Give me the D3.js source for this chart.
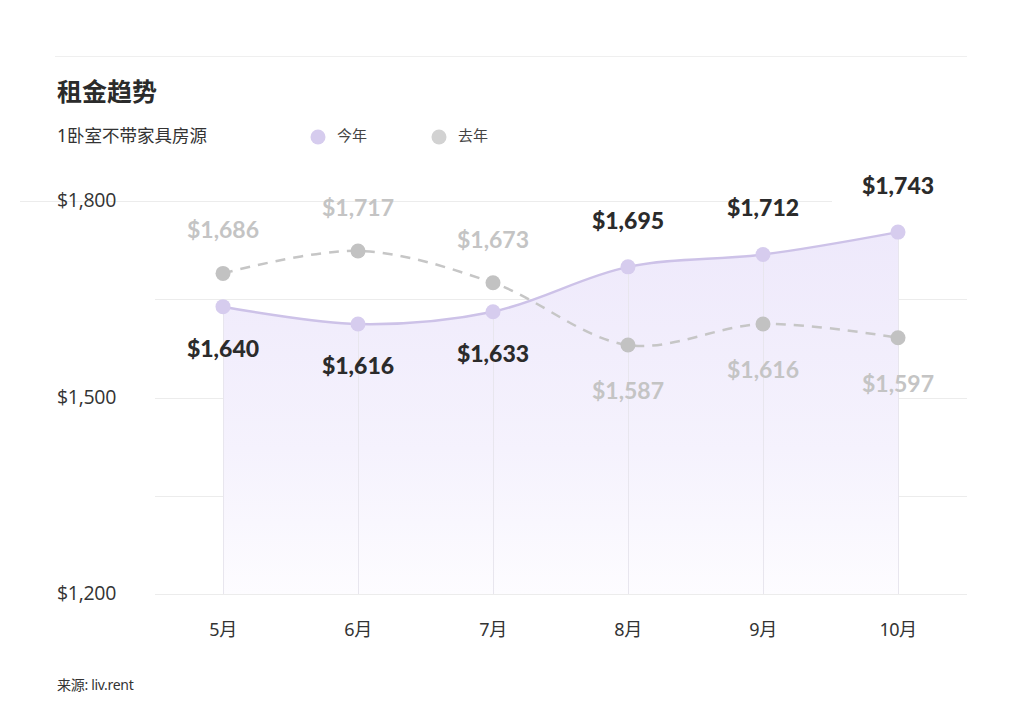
<!DOCTYPE html>
<html><head><meta charset="utf-8">
<script src="https://cdn.jsdelivr.net/npm/d3@7/dist/d3.min.js"></script>
<style>body{margin:0;background:#fff}svg{display:block}</style>
</head><body><svg id="c" width="1024" height="717"></svg>
<script>
const months = ["5月","6月","7月","8月","9月","10月"];
const thisYear = [1640,1616,1633,1695,1712,1743];
const lastYear = [1686,1717,1673,1587,1616,1597];
const yTicks = [1200,1500,1800];
const gridValues = [1200,1350,1500,1650];
const title = "租金趋势";
const subtitle = "1卧室不带家具房源";
const legendLabels = ["今年","去年"];
const source = "来源: liv.rent";

const svg = d3.select("#c");
const cjk = "'Noto Sans','Noto Sans CJK SC',sans-serif";
const x = d3.scalePoint().domain(months).range([223,898]);
const yAxis = d3.scaleLinear().domain([1200,1800]).range([594,201]);
const yData = d3.scaleLinear().domain([1243,1786]).range([594,201]);
const fmt = v => "$" + d3.format(",")(v);

svg.append("line").attr("x1",55).attr("x2",967).attr("y1",56.5).attr("y2",56.5).attr("stroke","#efefef");

svg.append("text").attr("x",57).attr("y",94).attr("dominant-baseline","middle")
  .attr("font-family",cjk).attr("font-weight",700).attr("font-size",25).attr("fill","#2b2b2b").text(title);
svg.append("text").attr("x",57).attr("y",137).attr("dominant-baseline","middle")
  .attr("font-family",cjk).attr("font-size",17.5).attr("fill","#333").text(subtitle);

const legCols = ["#d6ccee","#d2d2d2"];
const legX = [318,439];
legendLabels.forEach((t,i)=>{
  svg.append("circle").attr("cx",legX[i]).attr("cy",137).attr("r",7.5).attr("fill",legCols[i]);
  svg.append("text").attr("x",legX[i]+19).attr("y",137).attr("dominant-baseline","middle")
    .attr("font-family",cjk).attr("font-size",15).attr("fill","#444").text(t);
});

svg.append("line").attr("x1",20).attr("x2",832).attr("y1",Math.round(yAxis(1800))+0.5).attr("y2",Math.round(yAxis(1800))+0.5).attr("stroke","#ececec");
gridValues.forEach(v=>{
  svg.append("line").attr("x1",155).attr("x2",967).attr("y1",Math.round(yAxis(v))+0.5).attr("y2",Math.round(yAxis(v))+0.5).attr("stroke","#ececec");
});

yTicks.forEach(v=>{
  svg.append("text").attr("x",57).attr("y",yAxis(v)+1).attr("dominant-baseline","middle")
    .attr("font-family","'Open Sans',sans-serif").attr("font-size",19.5).attr("fill","#333")
    .attr("letter-spacing",-0.3).text(fmt(v));
});

const defs = svg.append("defs");
const g = defs.append("linearGradient").attr("id","ag").attr("x1",0).attr("x2",0).attr("y1",0).attr("y2",1);
g.append("stop").attr("offset","0%").attr("stop-color","#eee9fb");
g.append("stop").attr("offset","60%").attr("stop-color","#f5f2fd");
g.append("stop").attr("offset","100%").attr("stop-color","#fdfcff");

const curve = d3.curveCatmullRom.alpha(0.5);
const pts = months.map((m,i)=>({m, a:thisYear[i], b:lastYear[i]}));
svg.append("path").datum(pts)
  .attr("d", d3.area().x(d=>x(d.m)).y0(594).y1(d=>yData(d.a)).curve(curve))
  .attr("fill","url(#ag)");

pts.forEach(d=>{
  svg.append("line").attr("x1",Math.round(x(d.m))+0.5).attr("x2",Math.round(x(d.m))+0.5)
    .attr("y1",yData(d.a)).attr("y2",594).attr("stroke","#e8e6ee");
});

svg.append("path").datum(pts)
  .attr("d", d3.line().x(d=>x(d.m)).y(d=>yData(d.b)).curve(curve))
  .attr("fill","none").attr("stroke","#c6c6c6").attr("stroke-width",2.5).attr("stroke-dasharray","10,8");
svg.append("path").datum(pts)
  .attr("d", d3.line().x(d=>x(d.m)).y(d=>yData(d.a)).curve(curve))
  .attr("fill","none").attr("stroke","#cdc2e8").attr("stroke-width",2.5);

pts.forEach(d=>{
  svg.append("circle").attr("cx",x(d.m)).attr("cy",yData(d.b)).attr("r",7.5).attr("fill","#c2c2c2");
  svg.append("circle").attr("cx",x(d.m)).attr("cy",yData(d.a)).attr("r",7.5).attr("fill","#d6ccee");
});

const vf = "Lato,sans-serif";
pts.forEach(d=>{
  const aAbove = d.a > d.b;
  svg.append("text").attr("x",x(d.m)).attr("y",yData(d.a)+(aAbove?-44:44))
    .attr("text-anchor","middle").attr("dominant-baseline","middle")
    .attr("font-family",vf).attr("font-weight",900).attr("font-size",23).attr("fill","#2b2b2b").text(fmt(d.a));
  svg.append("text").attr("x",x(d.m)).attr("y",yData(d.b)+(aAbove?48:-41))
    .attr("text-anchor","middle").attr("dominant-baseline","middle")
    .attr("font-family",vf).attr("font-weight",700).attr("font-size",23).attr("fill","#c4c4c4").text(fmt(d.b));
});

months.forEach(m=>{
  svg.append("text").attr("x",x(m)).attr("y",631).attr("text-anchor","middle").attr("dominant-baseline","middle")
    .attr("font-family",cjk).attr("font-size",18).attr("fill","#333").attr("letter-spacing",-0.5).text(m);
});

svg.append("text").attr("x",57).attr("y",686).attr("dominant-baseline","middle")
  .attr("font-family",cjk).attr("font-size",14).attr("fill","#333").attr("letter-spacing",-0.3).text(source);
</script></body></html>
